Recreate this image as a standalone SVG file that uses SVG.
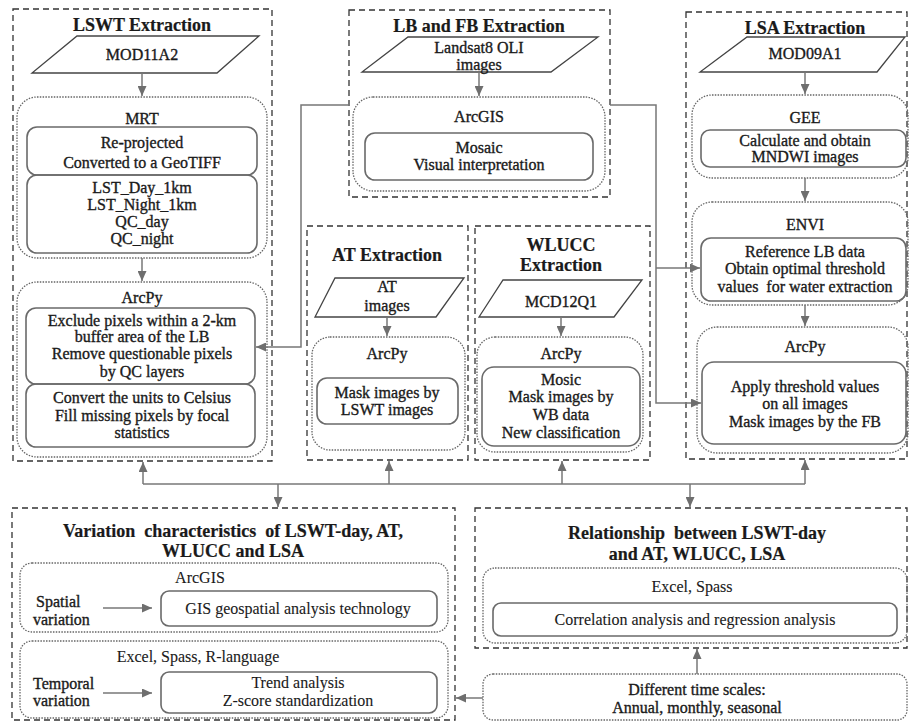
<svg xmlns="http://www.w3.org/2000/svg" width="911" height="722" viewBox="0 0 911 722">
<defs>
<marker id="ah" markerUnits="userSpaceOnUse" markerWidth="10" markerHeight="9" refX="10" refY="4.5" orient="auto">
<path d="M0,0 L10,4.5 L0,9 z" fill="#6e6e6e"/>
</marker>
<style>
.dash{fill:none;stroke:#333;stroke-width:1.3;stroke-dasharray:6 4}
.dot{fill:none;stroke:#666;stroke-width:1.3;stroke-dasharray:1.5 1.3}
.solid{fill:none;stroke:#6a6a6a;stroke-width:1.6}
.para{fill:none;stroke:#444;stroke-width:1.3}
.con{fill:none;stroke:#777;stroke-width:1.5}
.arr{fill:none;stroke:#777;stroke-width:1.5;marker-end:url(#ah)}
text{fill:#1a1a1a;text-anchor:middle;font-size:16px;stroke:#1a1a1a;stroke-width:0.35}
.t{font-size:18px;font-weight:bold;stroke-width:0.2}
.h{font-size:16px}
.n{stroke-width:0.1}
.l{text-anchor:start}
</style>
</defs>
<g font-family="'Liberation Serif', 'DejaVu Serif', 'Times New Roman', serif">
<g id="lswt">
<rect class="dash" x="13" y="9" width="259" height="452"/>
<text class="t" x="142" y="31">LSWT Extraction</text>
<polygon class="para" points="77,36 259,36 217,73 32,73"/>
<text x="142" y="60">MOD11A2</text>
<rect class="dot" x="17" y="97" width="250" height="161" rx="20"/>
<text class="h" x="142" y="124">MRT</text>
<rect class="solid" x="27" y="127" width="230" height="48" rx="10"/>
<text x="142" y="148">Re-projected</text>
<text x="142" y="168">Converted to a GeoTIFF</text>
<rect class="solid" x="27" y="175" width="230" height="78" rx="10"/>
<text x="142" y="193">LST_Day_1km</text>
<text x="142" y="210">LST_Night_1km</text>
<text x="142" y="227">QC_day</text>
<text x="142" y="244">QC_night</text>
<rect class="dot" x="17" y="282" width="250" height="175" rx="20"/>
<text class="h" x="142" y="303">ArcPy</text>
<rect class="solid" x="26" y="308" width="229" height="76" rx="10"/>
<text x="142" y="326">Exclude pixels within a 2-km</text>
<text x="142" y="342">buffer area of the LB</text>
<text x="142" y="359">Remove questionable pixels</text>
<text x="142" y="377">by QC layers</text>
<rect class="solid" x="26" y="384" width="229" height="63" rx="10"/>
<text x="142" y="403">Convert the units to Celsius</text>
<text x="142" y="421">Fill missing pixels by focal</text>
<text x="142" y="438">statistics</text>
</g>

<g id="lbfb">
<rect class="dash" x="349" y="10" width="261" height="187"/>
<text class="t" x="479" y="32">LB and FB Extraction</text>
<polygon class="para" points="408,37 598,37 551,72 362,72"/>
<text x="479" y="53">Landsat8 OLI</text>
<text x="479" y="70">images</text>
<rect class="dot" x="353" y="97" width="252" height="94" rx="20"/>
<text class="h" x="479" y="122">ArcGIS</text>
<rect class="solid" x="365" y="133" width="228" height="47" rx="10"/>
<text x="479" y="153">Mosaic</text>
<text x="479" y="170">Visual interpretation</text>
</g>

<g id="lsa">
<rect class="dash" x="686" y="12" width="221" height="447"/>
<text class="t" x="805" y="34">LSA Extraction</text>
<polygon class="para" points="747,37 905,37 877,72 700,72"/>
<text x="805" y="59">MOD09A1</text>
<rect class="dot" x="692" y="95" width="216" height="83" rx="20"/>
<text class="h" x="805" y="123">GEE</text>
<rect class="solid" x="701" y="130" width="205" height="37" rx="9"/>
<text x="805" y="146" font-size="15">Calculate and obtain</text>
<text x="805" y="162" font-size="15">MNDWI images</text>
<rect class="dot" x="692" y="202" width="216" height="103" rx="20"/>
<text class="h" x="805" y="230">ENVI</text>
<rect class="solid" x="701" y="238" width="205" height="63" rx="10"/>
<text x="805" y="257">Reference LB data</text>
<text x="805" y="274">Obtain optimal threshold</text>
<text x="805" y="292" xml:space="preserve">values  for water extraction</text>
<rect class="dot" x="697" y="327" width="211" height="126" rx="20"/>
<text class="h" x="805" y="352">ArcPy</text>
<rect class="solid" x="702" y="362" width="204" height="82" rx="12"/>
<text x="805" y="392">Apply threshold values</text>
<text x="805" y="409">on all images</text>
<text x="805" y="427">Mask images by the FB</text>
</g>

<g id="at">
<rect class="dash" x="307" y="226" width="161" height="234"/>
<text class="t" x="387" y="261">AT Extraction</text>
<polygon class="para" points="335,278 464,278 436,317 315,317"/>
<text x="387" y="292">AT</text>
<text x="387" y="311">images</text>
<rect class="dot" x="312" y="337" width="153" height="113" rx="18"/>
<text class="h" x="387" y="359">ArcPy</text>
<rect class="solid" x="317" y="378" width="141" height="46" rx="10"/>
<text x="387" y="398">Mask images by</text>
<text x="387" y="415">LSWT images</text>
</g>

<g id="wlucc">
<rect class="dash" x="475" y="226" width="175" height="234"/>
<text class="t" x="561" y="251">WLUCC</text>
<text class="t" x="561" y="271">Extraction</text>
<polygon class="para" points="503,280 642,280 614,317 479,317"/>
<text x="561" y="307">MCD12Q1</text>
<rect class="dot" x="477" y="337" width="166" height="115" rx="18"/>
<text class="h" x="561" y="359">ArcPy</text>
<rect class="solid" x="482" y="367" width="158" height="79" rx="12"/>
<text x="561" y="385">Mosic</text>
<text x="561" y="402">Mask images by</text>
<text x="561" y="420">WB data</text>
<text x="561" y="438">New classification</text>
</g>

<g id="variation">
<rect class="dash" x="12" y="508" width="443" height="212"/>
<text class="t" x="233" y="537" font-size="17" xml:space="preserve">Variation  characteristics  of LSWT-day, AT,</text>
<text class="t" x="233" y="557" font-size="17">WLUCC and LSA</text>
<rect class="dot" x="20" y="563" width="428" height="69" rx="12"/>
<text class="h n" x="200" y="583">ArcGIS</text>
<text class="l" x="36" y="607">Spatial</text>
<text class="l" x="33" y="625">variation</text>
<rect class="solid" x="161" y="591" width="276" height="35" rx="8"/>
<text class="n" x="298" y="614">GIS geospatial analysis technology</text>
<rect class="dot" x="20" y="641" width="428" height="77" rx="12"/>
<text class="n" x="198" y="662">Excel, Spass, R-language</text>
<text class="l" x="33" y="689">Temporal</text>
<text class="l" x="33" y="706">variation</text>
<rect class="solid" x="161" y="672" width="276" height="41" rx="8"/>
<text class="n" x="298" y="688">Trend analysis</text>
<text class="n" x="298" y="706">Z-score standardization</text>
</g>

<g id="relationship">
<rect class="dash" x="475" y="508" width="432" height="140"/>
<text class="t" x="697" y="539" xml:space="preserve">Relationship  between LSWT-day</text>
<text class="t" x="697" y="560">and AT, WLUCC, LSA</text>
<rect class="dot" x="483" y="568" width="424" height="75" rx="12"/>
<text class="n" x="692" y="592">Excel, Spass</text>
<rect class="solid" x="493" y="603" width="404" height="33" rx="8"/>
<text class="n" x="695" y="625">Correlation analysis and regression analysis</text>
</g>

<g id="timescales">
<rect class="dot" x="483" y="674" width="424" height="46" rx="10"/>
<text x="697" y="695">Different time scales:</text>
<text x="697" y="713">Annual, monthly, seasonal</text>
</g>
</g>
<g id="connectors">
<line class="arr" x1="142" y1="73" x2="142" y2="96"/>
<line class="arr" x1="142" y1="258" x2="142" y2="281"/>
<line class="arr" x1="479" y1="72" x2="479" y2="96"/>
<path class="arr" d="M349,105 H301 V347 H256"/>
<path class="arr" d="M610,105 H656 V403 H701"/>
<path class="arr" d="M656,268 H700"/>
<line class="arr" x1="805" y1="72" x2="805" y2="94"/>
<line class="arr" x1="805" y1="178" x2="805" y2="201"/>
<line class="arr" x1="805" y1="305" x2="805" y2="326"/>
<line class="arr" x1="387" y1="317" x2="387" y2="336"/>
<line class="arr" x1="561" y1="317" x2="561" y2="336"/>
<path class="con" d="M143,484 H805"/>
<line class="arr" x1="143" y1="484" x2="143" y2="462"/>
<line class="arr" x1="389" y1="484" x2="389" y2="461"/>
<line class="arr" x1="562" y1="484" x2="562" y2="461"/>
<line class="arr" x1="805" y1="484" x2="805" y2="460"/>
<line class="arr" x1="278" y1="484" x2="278" y2="507"/>
<line class="arr" x1="690" y1="484" x2="690" y2="507"/>
<line class="arr" x1="103" y1="608" x2="152" y2="608"/>
<line class="arr" x1="103" y1="693" x2="152" y2="693"/>
<line class="arr" x1="697" y1="674" x2="697" y2="649"/>
<line class="arr" x1="483" y1="698" x2="456" y2="698"/>
</g>
</svg>
